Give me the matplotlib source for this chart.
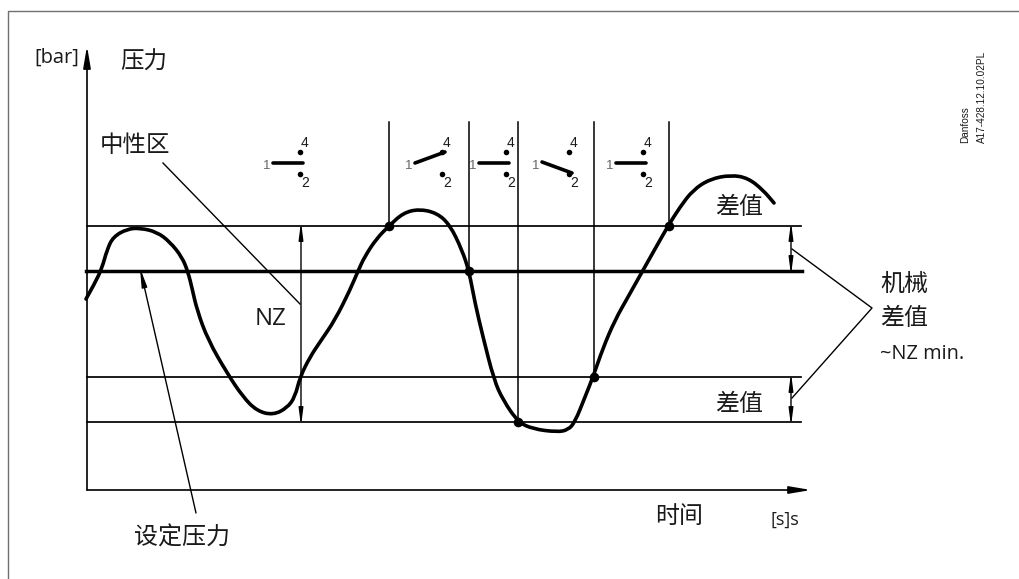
"""Pressure switch neutral-zone diagram, drawn in image pixel coordinates."""

import matplotlib

matplotlib.use("Agg")
import matplotlib.pyplot as plt
from matplotlib.patches import PathPatch
from matplotlib.path import Path

plt.rcParams["font.family"] = ["Open Sans", "Noto Sans CJK SC", "DejaVu Sans"]

WIDTH, HEIGHT = 1019, 579
INK = "#1a1a1a"

# pressure trace
curve_x = [86, 95, 102, 107, 113, 127, 140, 157, 170, 182, 188, 192, 197, 208, 227,
           243, 257, 273, 287, 295, 300, 310, 320, 335, 350, 358, 365, 377, 389,
           403, 419, 437, 450, 462, 469, 475, 483, 494, 503, 518, 533, 557, 568,
           575, 585, 593, 603, 615, 628, 642, 655, 668, 680, 693, 710, 731, 748,
           763, 774]
curve_y = [299, 283, 268, 250, 237, 229, 228, 232, 242, 257, 272, 288, 310, 340, 373,
           397, 411, 415, 408, 397, 377, 357, 342, 320, 290, 271, 256, 238, 226,
           213, 209, 213, 225, 250, 271, 303, 337, 380, 400, 422, 429, 432, 430,
           422, 397, 377, 348, 320, 297, 272, 249, 226, 207, 190, 179, 175, 178,
           190, 203]

# switching points on the trace
dots_x = [389, 469, 518, 594, 669]
dots_y = [226, 271, 422, 377, 226]

# horizontal levels
level_y = [226, 377, 422]
setpoint_y = 271

# vertical switching lines
switch_x = [389, 469, 518, 594, 669]
switch_bottom = [226, 271, 422, 377, 226]
switch_top = 122

# contact symbols: origin x and state (0 neutral, 1 up to 4, -1 down to 2)
symbol_x = [273, 415, 479, 542, 616]
symbol_state = [0, 1, 0, -1, 0]

labels = [
    (34, 58, "[bar]", 20),
    (120, 63, "压力", 23.5),
    (100, 146, "中性区", 23.5),
    (255, 319, "NZ", 24),
    (715, 208, "差值", 24),
    (715, 405, "差值", 24),
    (880, 285, "机械", 24),
    (880, 319, "差值", 24),
    (880, 354, "~NZ min.", 20),
    (134, 539, "设定压力", 24),
    (655, 517, "时间", 24),
    (771, 520, "[s]s", 18),
]

fig = plt.figure(figsize=(WIDTH / 100, HEIGHT / 100), dpi=100)
ax = fig.add_axes([0, 0, 1, 1])
ax.set_xlim(0, WIDTH)
ax.set_ylim(HEIGHT, 0)
ax.axis("off")

# frame, open at the right and the bottom
ax.plot([8, 8, WIDTH], [HEIGHT, 11, 11], color="#707070", lw=1.0)


def arrow(x0, y0, x1, y1, lw=1.0, style="-|>,head_length=1.1,head_width=0.16"):
    ax.annotate("", xy=(x1, y1), xytext=(x0, y0),
                arrowprops=dict(arrowstyle=style, color="black", lw=lw,
                                mutation_scale=10, shrinkA=0, shrinkB=0))


# axes arrows, tips overshoot a little because the narrow heads get pulled back
axis_head = "-|>,head_length=1.3,head_width=0.22"
arrow(87, 490, 87, 46, lw=1.2, style=axis_head)
arrow(87, 490, 811, 490, lw=1.2, style=axis_head)

for y in level_y:
    ax.plot([87, 801], [y, y], color="black", lw=1.25)
ax.plot([86, 802], [setpoint_y, setpoint_y], color="black", lw=2.5)

for x, bottom in zip(switch_x, switch_bottom):
    ax.plot([x, x], [switch_top, bottom], color="black", lw=1.1)

# quadratic segments with the read points as controls keep the trace round
points = list(zip(curve_x, curve_y))
vertices = [points[0]]
codes = [Path.MOVETO]
for p, q in zip(points[1:-1], points[2:]):
    vertices += [p, ((p[0] + q[0]) / 2, (p[1] + q[1]) / 2)]
    codes += [Path.CURVE3, Path.CURVE3]
vertices += [points[-1]]
codes += [Path.LINETO]
ax.add_patch(PathPatch(Path(vertices, codes), fill=False, edgecolor="black", lw=2.6,
                       capstyle="round", joinstyle="round"))
ax.scatter(dots_x, dots_y, s=48, color="black", linewidths=0, zorder=3)

# NZ and differential dimension arrows
both_head = "<|-|>,head_length=1.0,head_width=0.13"
for x, y0, y1 in [(301, 222, 426), (791, 222, 275), (791, 373, 426)]:
    arrow(x, y0, x, y1, lw=1.0, style=both_head)

# leader lines
ax.plot([163, 300], [163, 304], color="black", lw=1.0)
arrow(196, 513, 140, 268, lw=1.0)
ax.plot([792, 872, 792], [249, 308, 398], color="black", lw=1.0)

# contact symbols
for x, state in zip(symbol_x, symbol_state):
    start_y = {0: 163, 1: 163, -1: 162}[state]
    end_y = {0: 163, 1: 152, -1: 173}[state]
    ax.plot([x, x + 30], [start_y, end_y], color="black", lw=2.6, solid_capstyle="round")
    ax.scatter([x + 27, x + 27], [152, 174], s=16, color="black", linewidths=0, zorder=3)
    ax.text(x - 6, 166, "1", ha="center", va="center", fontsize=9.5, color="#666666",
            family="Liberation Sans")
    ax.text(x + 32, 143, "4", ha="center", va="center", fontsize=10, color=INK,
            family="Liberation Sans")
    ax.text(x + 32, 183, "2", ha="center", va="center", fontsize=10, color=INK,
            family="Liberation Sans")

for x, y, text, size in labels:
    ax.text(x, y, text, ha="left", va="center", fontsize=size * 0.72, color=INK)

ax.text(965, 143, "Danfoss", rotation=90, ha="center", va="bottom", fontsize=7.2,
        color=INK, family="Liberation Sans")
ax.text(982, 143, "A17-428.12.10.02PL", rotation=90, ha="center", va="bottom",
        fontsize=7.2, color=INK, family="Liberation Sans")

fig.savefig("out.png", dpi=100)
